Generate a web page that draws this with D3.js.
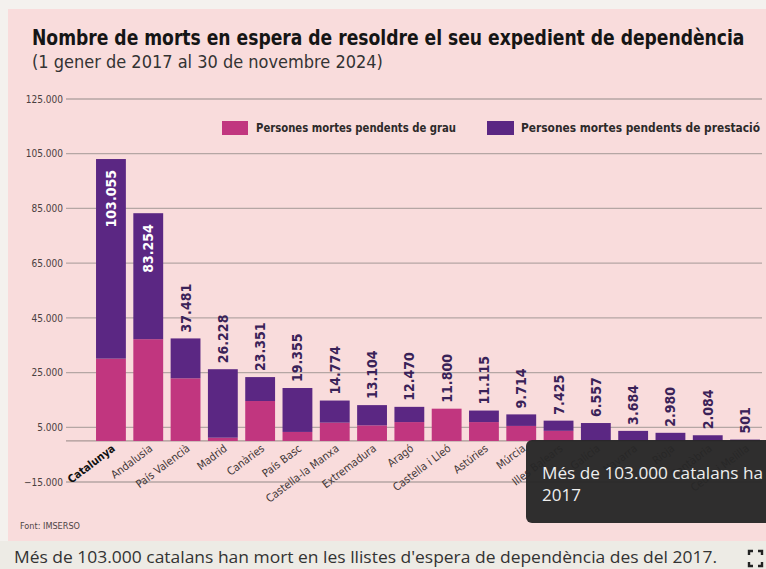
<!DOCTYPE html>
<html>
<head>
<meta charset="utf-8">
<script src="https://cdn.jsdelivr.net/npm/d3@7"></script>
<style>
  html, body { margin: 0; padding: 0; background: #f3f1ee; }
  svg { display: block; }
  .cond { font-family: "Liberation Sans Narrow", "DejaVu Sans Condensed", "DejaVu Sans", sans-serif; font-stretch: condensed; }
</style>
</head>
<body>
<svg id="chart" width="766" height="569"></svg>
<script>
// ---- data ----
const categories = ["Catalunya", "Andalusia", "País Valencià", "Madrid", "Canàries", "País Basc",
  "Castella-la Manxa", "Extremadura", "Aragó", "Castella i Lleó", "Astúries", "Múrcia",
  "Illes Balears", "Galícia", "Navarra", "Rioja", "Cantàbria", "Ceuta i Melilla"];
const pendentsGrau = [30100, 37200, 22900, 1200, 14600, 3300, 6700, 5700, 6900, 11800, 6900, 5500, 3700, 0, 0, 0, 0, 0];
const pendentsPrestacio = [72955, 46054, 14581, 25028, 8751, 16055, 8074, 7404, 5570, 0, 4215, 4214, 3725, 6557, 3684, 2980, 2084, 501];
const totals = [103055, 83254, 37481, 26228, 23351, 19355, 14774, 13104, 12470, 11800, 11115, 9714, 7425, 6557, 3684, 2980, 2084, 501];
const yTicks = [125000, 105000, 85000, 65000, 45000, 25000, 5000, -15000];
const seriesNames = ["Persones mortes pendents de grau", "Persones mortes pendents de prestació"];
const titleText = "Nombre de morts en espera de resoldre el seu expedient de dependència";
const subtitleText = "(1 gener de 2017 al 30 de novembre 2024)";
const sourceText = "Font: IMSERSO";
const captionText = "Més de 103.000 catalans han mort en les llistes d'espera de dependència des del 2017.";
// visible part of the tooltip (the reference cuts it at the window edge)
const tooltipLines = ["Més de 103.000 catalans ha", "2017"];

const colors = { grau: "#c1367f", prestacio: "#5b2783" };
const locale = d3.formatLocale({ decimal: ",", thousands: ".", grouping: [3], currency: ["", "€"] });
const fmt = locale.format(",d");

const svg = d3.select("#chart");

// backgrounds
svg.append("rect").attr("x", 0).attr("y", 0).attr("width", 766).attr("height", 569).attr("fill", "#f4f1ee");
svg.append("rect").attr("x", 8).attr("y", 9).attr("width", 758).attr("height", 532).attr("fill", "#f9dcdc");
svg.append("rect").attr("x", 0).attr("y", 541).attr("width", 766).attr("height", 28).attr("fill", "#edebe5");

// title: squeeze horizontally to the reference width
const title = svg.append("text").attr("class", "cond")
  .attr("font-size", 21).attr("font-weight", "bold").attr("fill", "#151515").text(titleText);
const tw = title.node().getComputedTextLength();
title.attr("transform", `translate(32,45) scale(${713 / tw},1)`);

const sub = svg.append("text").attr("class", "cond")
  .attr("font-size", 17).attr("fill", "#333").text(subtitleText);
const sw = sub.node().getComputedTextLength();
sub.attr("transform", `translate(32,68) scale(${351 / sw},1)`);

// scales
const y = d3.scaleLinear().domain([-15000, 125000]).range([482, 99]);
const x = d3.scaleBand().domain(categories).range([92.3, 763.7]).paddingInner(0.2).paddingOuter(0.1);

// grid + y labels
const yAxis = d3.axisLeft(y).tickValues(yTicks).tickFormat(fmt).tickSize(0);
const gy = svg.append("g").attr("transform", "translate(64,0)").call(yAxis);
gy.select(".domain").remove();
gy.selectAll("text").attr("class", "cond").attr("font-size", 10).attr("fill", "#4a4040").attr("x", -1);
svg.append("g").selectAll("line").data(yTicks).join("line")
  .attr("x1", 66).attr("x2", 762).attr("y1", d => y(d)).attr("y2", d => y(d))
  .attr("stroke", "#b5a6a4").attr("stroke-width", 1.3);
svg.append("line").attr("x1", 66).attr("x2", 762).attr("y1", y(0)).attr("y2", y(0))
  .attr("stroke", "#a89896").attr("stroke-width", 1.3);

// bars
const rows = categories.map((c, i) => ({ c, g: pendentsGrau[i], p: pendentsPrestacio[i], t: totals[i] }));
const bars = svg.append("g");
bars.selectAll("rect.g").data(rows).join("rect").attr("class", "g")
  .attr("x", d => x(d.c)).attr("width", x.bandwidth())
  .attr("y", d => y(d.g)).attr("height", d => y(0) - y(d.g)).attr("fill", colors.grau);
bars.selectAll("rect.p").data(rows).join("rect").attr("class", "p")
  .attr("x", d => x(d.c)).attr("width", x.bandwidth())
  .attr("y", d => y(d.g + d.p)).attr("height", d => y(d.g) - y(d.g + d.p)).attr("fill", colors.prestacio);

// value labels
svg.append("g").selectAll("text").data(rows).join("text").attr("class", "cond")
  .attr("transform", d => {
    const cx = x(d.c) + x.bandwidth() / 2;
    const inside = d.t > 50000;
    const ty = inside ? y(d.t) + 11 : y(d.t) - 6;
    return `translate(${cx},${ty}) rotate(-90)`;
  })
  .attr("text-anchor", d => d.t > 50000 ? "end" : "start")
  .attr("dy", "0.36em")
  .attr("font-size", 14).attr("font-weight", "bold")
  .attr("fill", d => d.t > 50000 ? "#ffffff" : "#3a2258")
  .text(d => fmt(d.t));

// x labels
svg.append("g").selectAll("text").data(categories).join("text").attr("class", "cond")
  .attr("transform", d => `translate(${x(d) + x.bandwidth() / 2 + 5},${y(0) + 9}) rotate(-37)`)
  .attr("text-anchor", "end")
  .attr("font-size", 11)
  .attr("font-weight", (d, i) => i === 0 ? "bold" : "normal")
  .attr("fill", (d, i) => i === 0 ? "#111" : "#3f3636")
  .text(d => d);

// legend
const legend = svg.append("g");
legend.append("rect").attr("x", 222).attr("y", 121).attr("width", 26).attr("height", 14).attr("fill", colors.grau);
legend.append("text").attr("class", "cond").attr("x", 256).attr("y", 132).attr("font-size", 12)
  .attr("font-weight", "bold").attr("fill", "#2d2a2a")
  .attr("textLength", 200).attr("lengthAdjust", "spacingAndGlyphs").text(seriesNames[0]);
legend.append("rect").attr("x", 487).attr("y", 121).attr("width", 27).attr("height", 14).attr("fill", colors.prestacio);
legend.append("text").attr("class", "cond").attr("x", 521).attr("y", 132).attr("font-size", 12)
  .attr("font-weight", "bold").attr("fill", "#2d2a2a")
  .attr("textLength", 239).attr("lengthAdjust", "spacingAndGlyphs").text(seriesNames[1]);

// source
svg.append("text").attr("class", "cond").attr("x", 20).attr("y", 529).attr("font-size", 9.5)
  .attr("fill", "#4d4545").attr("textLength", 60).attr("lengthAdjust", "spacingAndGlyphs").text(sourceText);

// caption
svg.append("text").attr("x", 14).attr("y", 563).attr("font-family", "'Open Sans', 'Noto Sans', sans-serif")
  .attr("font-size", 15.5).attr("fill", "#333")
  .attr("textLength", 703).attr("lengthAdjust", "spacingAndGlyphs").text(captionText);

// fullscreen icon
const icon = svg.append("g").attr("fill", "none").attr("stroke", "#222").attr("stroke-width", 2.4);
[[749, 551, 1, 1], [762, 551, -1, 1], [749, 566, 1, -1], [762, 566, -1, -1]].forEach(([cx, cy, sx, sy]) => {
  icon.append("path").attr("d", `M${cx},${cy + sy * 4} L${cx},${cy} L${cx + sx * 4},${cy}`);
});

// tooltip (box extends past the right edge, as in the reference)
const tip = svg.append("g");
tip.append("rect").attr("x", 526).attr("y", 440).attr("width", 260).attr("height", 83).attr("rx", 6)
  .attr("fill", "#262626").attr("fill-opacity", 0.96);
tip.selectAll("text").data(tooltipLines).join("text")
  .attr("x", 542).attr("y", (d, i) => 479 + i * 22)
  .attr("font-family", "'Open Sans', 'Noto Sans', sans-serif")
  .attr("font-size", 17).attr("fill", "#eeeeee")
  .attr("textLength", (d, i) => i === 0 ? 221 : null)
  .attr("lengthAdjust", "spacingAndGlyphs")
  .text(d => d);
</script>
</body>
</html>
